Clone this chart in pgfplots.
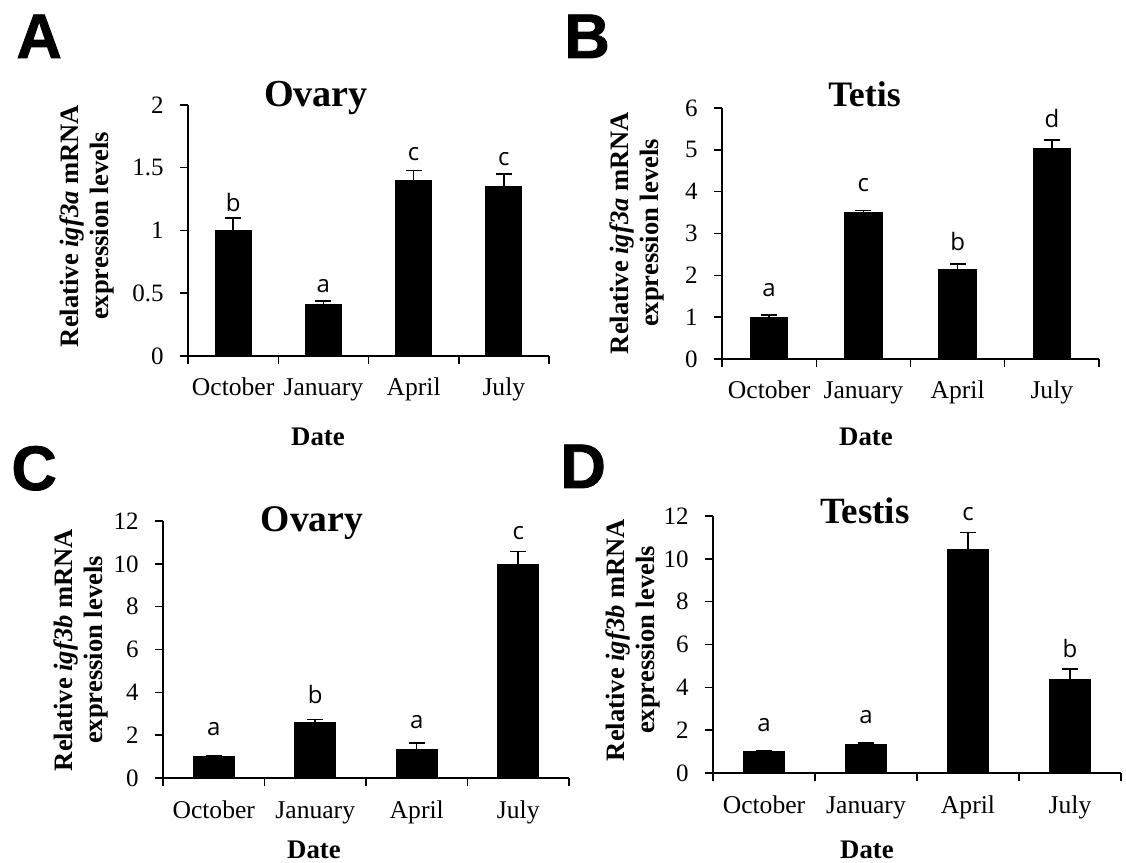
\documentclass[border=0pt]{standalone}
\usepackage{fontspec}
\setmainfont{Liberation Serif}
\newfontfamily\sigfont{Open Sans}
\newfontfamily\panelfont{Liberation Sans}[FakeBold=1.2]
\usepackage{pgfplots}
\pgfplotsset{compat=1.18}
\pgfplotsset{
  mybar/.style={
    scale only axis, anchor=south west, clip=false,
    axis lines*=left,
    axis line style={line width=0.75pt, black},
    ymin=0, xmin=-0.5, xmax=3.5,
    tick align=outside,
    major tick length=4pt,
    every tick/.style={line width=0.75pt, black},
    /pgf/number format/assume math mode=true,
    xtick={-0.5,0.5,1.5,2.5,3.5}, xticklabels={},
    extra x ticks={0,1,2,3},
    extra x tick labels={October,January,April,July},
    extra x tick style={major tick length=0pt},
    xticklabel style={font=\fontsize{12.8}{14}\selectfont, anchor=base, inner sep=0pt, yshift=-20pt},
    yticklabel style={font=\fontsize{12.5}{14}\selectfont, anchor=east, inner sep=0pt, xshift=-8pt},
  },
  bars/.style={ybar, bar width=0.4, fill=black, draw=black, line width=0.5pt,
    error bars/.cd, y dir=plus, y explicit,
    error bar style={line width=0.75pt, black},
    error mark options={rotate=90, black, line width=0.75pt, mark size=4pt}},
}
\newcommand{\sig}[2]{\node[font=\sigfont\fontsize{12}{14}\selectfont, inner sep=0pt] at (axis cs:#1) {#2};}
\begin{document}
\begin{tikzpicture}
\path[use as bounding box] (0,0) rectangle (563pt,431.5pt);

% Panel A
\begin{axis}[mybar, at={(94pt,253.5pt)}, width=180.5pt, height=125.5pt,
  ymax=2, ytick={0,0.5,1,1.5,2}]
\addplot[bars] table[x=x, y=y, y error=e] {
x y e
0 1.00 0.10
1 0.41 0.03
2 1.40 0.08
3 1.35 0.10
};
\sig{0,1.226}{b}
\sig{1,0.558}{a}
\sig{2,1.61}{c}
\sig{3,1.57}{c}
\end{axis}

% Panel B
\begin{axis}[mybar, at={(361pt,252pt)}, width=188.5pt, height=125.5pt,
  ymax=6, ytick={0,1,2,3,4,5,6}]
\addplot[bars] table[x=x, y=y, y error=e] {
x y e
0 1.00 0.05
1 3.50 0.05
2 2.13 0.14
3 5.04 0.20
};
\sig{0,1.64}{a}
\sig{1,4.15}{c}
\sig{2,2.80}{b}
\sig{3,5.75}{d}
\end{axis}

% Panel C
\begin{axis}[mybar, at={(81.5pt,42.5pt)}, width=203pt, height=128.5pt,
  ymax=12, ytick={0,2,4,6,8,10,12}]
\addplot[bars] table[x=x, y=y, y error=e] {
x y e
0 1.00 0.03
1 2.61 0.11
2 1.32 0.31
3 9.98 0.60
};
\sig{0,2.27}{a}
\sig{1,3.92}{b}
\sig{2,2.61}{a}
\sig{3,11.44}{c}
\end{axis}

% Panel D
\begin{axis}[mybar, at={(356.5pt,45pt)}, width=204pt, height=128.5pt,
  ymax=12, ytick={0,2,4,6,8,10,12}]
\addplot[bars] table[x=x, y=y, y error=e] {
x y e
0 1.00 0.04
1 1.34 0.07
2 10.44 0.78
3 4.37 0.49
};
\sig{0,2.22}{a}
\sig{1,2.59}{a}
\sig{2,12.11}{c}
\sig{3,5.81}{b}
\end{axis}

% Titles
\node[font=\bfseries\fontsize{19.1}{21}\selectfont, anchor=base] at (158pt,378pt) {Ovary};
\node[font=\bfseries\fontsize{17.9}{20}\selectfont, anchor=base] at (432.25pt,378pt) {Tetis};
\node[font=\bfseries\fontsize{18.8}{21}\selectfont, anchor=base] at (156pt,165.7pt) {Ovary};
\node[font=\bfseries\fontsize{18.5}{21}\selectfont, anchor=base] at (432.5pt,169.8pt) {Testis};

% Y labels
\node[rotate=90, align=center, font=\bfseries\fontsize{13.3}{15}\selectfont] at (43.5pt,318.5pt) {Relative \textit{igf3a} mRNA\\expression levels};
\node[rotate=90, align=center, font=\bfseries\fontsize{13.3}{15}\selectfont] at (318.5pt,315pt) {Relative \textit{igf3a} mRNA\\expression levels};
\node[rotate=90, align=center, font=\bfseries\fontsize{13.3}{15}\selectfont] at (40.5pt,106.5pt) {Relative \textit{igf3b} mRNA\\expression levels};
\node[rotate=90, align=center, font=\bfseries\fontsize{13.3}{15}\selectfont] at (316.5pt,111.5pt) {Relative \textit{igf3b} mRNA\\expression levels};

% X labels
\node[font=\bfseries\fontsize{13.4}{15}\selectfont, anchor=base] at (159pt,208.5pt) {Date};
\node[font=\bfseries\fontsize{13.4}{15}\selectfont, anchor=base] at (433pt,208.5pt) {Date};
\node[font=\bfseries\fontsize{13.4}{15}\selectfont, anchor=base] at (157pt,2pt) {Date};
\node[font=\bfseries\fontsize{13.4}{15}\selectfont, anchor=base] at (433.5pt,2.2pt) {Date};

% Panel letters
\node[font=\panelfont\bfseries\fontsize{31.5}{34}\selectfont, anchor=base west, inner sep=0pt] at (8pt,402.5pt) {A};
\node[font=\panelfont\bfseries\fontsize{31.5}{34}\selectfont, anchor=base west, inner sep=0pt] at (282pt,402.5pt) {B};
\node[font=\panelfont\bfseries\fontsize{31.5}{34}\selectfont, anchor=base west, inner sep=0pt] at (5.5pt,186.5pt) {C};
\node[font=\panelfont\bfseries\fontsize{31.5}{34}\selectfont, anchor=base west, inner sep=0pt] at (280pt,187.5pt) {D};
\end{tikzpicture}
\end{document}
